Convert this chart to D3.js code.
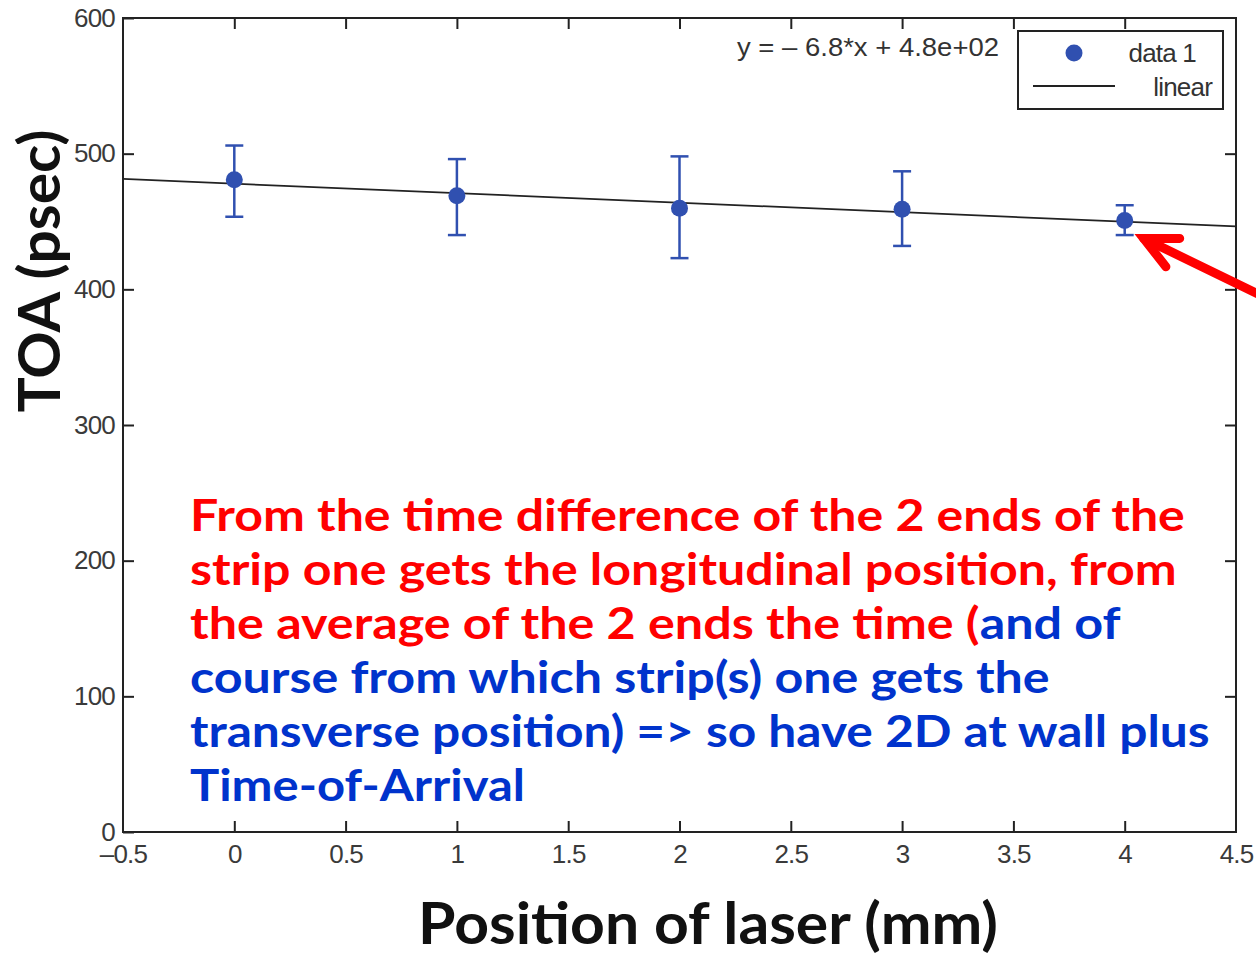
<!DOCTYPE html>
<meta charset="utf-8">
<style>
  body { margin: 0; background: #fff; }
  .tick text { font-family: "Liberation Sans", Arial, sans-serif; font-size: 26px; fill: #3a3a3a; letter-spacing: -0.8px; }
  .tick line { stroke: #222; stroke-width: 2; }
</style>
<body>
<script src="https://cdnjs.cloudflare.com/ajax/libs/d3/7.8.5/d3.min.js"></script>
<script>

var width = 1256,
    height = 955;

var margin = {top: 18, right: 20, bottom: 123, left: 123};

// laser position (mm) and time of arrival (psec)
var positions = [0, 1, 2, 3, 4];
var toa       = [480.8, 469, 459.7, 459, 450.8];
var errLow    = [453.5, 440, 423, 432, 440];
var errHigh   = [506, 496, 498, 487, 462];

var xTicks = [-0.5, 0, 0.5, 1, 1.5, 2, 2.5, 3, 3.5, 4, 4.5];
var yTicks = [0, 100, 200, 300, 400, 500, 600];

var fitLabel = "y = \u2013 6.8*x + 4.8e+02";

// annotation text, one entry per line, split by colour
var red = "#ff0000", blue = "#0033cc";
var noteLines = [
  [["From the time difference of the 2 ends of the", red]],
  [["strip one gets the longitudinal position, from", red]],
  [["the average of the 2 ends the time (", red], ["and of", blue]],
  [["course from which strip(s) one gets the", blue]],
  [["transverse position) => so have 2D at wall plus", blue]],
  [["Time-of-Arrival", blue]]
];
var noteWidths = [995, 987, 930, 860, 1020, 335];

var x = d3.scaleLinear().domain([-0.5, 4.5]).range([margin.left, width - margin.right]);
var y = d3.scaleLinear().domain([0, 600]).range([height - margin.bottom, margin.top]);

var svg = d3.select("body").append("svg")
    .attr("width", width)
    .attr("height", height);

var fmt = function(d) { return d < 0 ? "\u2013" + Math.abs(d) : String(d); };

// axes, ticks pointing inward on all four sides
svg.append("g")
    .attr("transform", "translate(0," + y(0) + ")")
    .call(d3.axisBottom(x).tickValues(xTicks).tickFormat(fmt).tickSizeInner(-11).tickSizeOuter(0).tickPadding(13))
    .call(function(g) { g.select(".domain").remove(); });

svg.append("g")
    .attr("transform", "translate(0," + y(600) + ")")
    .call(d3.axisTop(x).tickValues(xTicks.slice(1, -1)).tickFormat("").tickSizeInner(-11).tickSizeOuter(0))
    .call(function(g) { g.select(".domain").remove(); });

svg.append("g")
    .attr("transform", "translate(" + x(-0.5) + ",0)")
    .call(d3.axisLeft(y).tickValues(yTicks).tickSizeInner(-11).tickSizeOuter(0).tickPadding(8))
    .call(function(g) { g.select(".domain").remove(); });

svg.append("g")
    .attr("transform", "translate(" + x(4.5) + ",0)")
    .call(d3.axisRight(y).tickValues(yTicks.slice(1, -1)).tickFormat("").tickSizeInner(-11).tickSizeOuter(0))
    .call(function(g) { g.select(".domain").remove(); });

svg.selectAll(".tick line").filter(function(d) { return d === -0.5 || d === 4.5; }).remove();

svg.append("rect")
    .attr("x", x(-0.5)).attr("y", y(600))
    .attr("width", x(4.5) - x(-0.5)).attr("height", y(0) - y(600))
    .attr("fill", "none").attr("stroke", "#222").attr("stroke-width", 2);

// least squares fit
var mx = d3.mean(positions), my = d3.mean(toa);
var slope = d3.sum(positions, function(p, i) { return (p - mx) * (toa[i] - my); }) /
            d3.sum(positions, function(p) { return (p - mx) * (p - mx); });
var icpt = my - slope * mx;

svg.append("line")
    .attr("x1", x(-0.5)).attr("y1", y(icpt + slope * -0.5))
    .attr("x2", x(4.5)).attr("y2", y(icpt + slope * 4.5))
    .attr("stroke", "#222").attr("stroke-width", 1.8);

// error bars and points
var dotColor = "#3050b0";
var bars = svg.append("g").selectAll("g")
    .data(positions)
  .enter().append("g")
    .attr("stroke", dotColor).attr("stroke-width", 2.5);

bars.append("line")
    .attr("x1", function(d) { return x(d); }).attr("x2", function(d) { return x(d); })
    .attr("y1", function(d, i) { return y(errLow[i]); }).attr("y2", function(d, i) { return y(errHigh[i]); });
bars.append("line")
    .attr("x1", function(d) { return x(d) - 9; }).attr("x2", function(d) { return x(d) + 9; })
    .attr("y1", function(d, i) { return y(errLow[i]); }).attr("y2", function(d, i) { return y(errLow[i]); });
bars.append("line")
    .attr("x1", function(d) { return x(d) - 9; }).attr("x2", function(d) { return x(d) + 9; })
    .attr("y1", function(d, i) { return y(errHigh[i]); }).attr("y2", function(d, i) { return y(errHigh[i]); });

svg.append("g").selectAll("circle")
    .data(positions)
  .enter().append("circle")
    .attr("cx", function(d) { return x(d); })
    .attr("cy", function(d, i) { return y(toa[i]); })
    .attr("r", 8.5)
    .attr("fill", dotColor);

// fit equation
svg.append("text")
    .attr("x", 737).attr("y", 56)
    .attr("textLength", 262).attr("lengthAdjust", "spacingAndGlyphs")
    .style("font-family", "Liberation Sans, Arial, sans-serif")
    .style("font-size", "26px").style("fill", "#333")
    .text(fitLabel);

// legend
var lg = svg.append("g").attr("transform", "translate(1018,31)");
lg.append("rect").attr("width", 205).attr("height", 78)
    .attr("fill", "#fff").attr("stroke", "#222").attr("stroke-width", 2);
lg.append("circle").attr("cx", 56).attr("cy", 22).attr("r", 8.5).attr("fill", dotColor);
lg.append("line").attr("x1", 15).attr("x2", 97).attr("y1", 55).attr("y2", 55)
    .attr("stroke", "#222").attr("stroke-width", 1.8);
lg.selectAll("text")
    .data(["data 1", "linear"])
  .enter().append("text")
    .attr("x", function(d, i) { return i ? 194 : 178; })
    .attr("y", function(d, i) { return 31 + i * 34; })
    .attr("text-anchor", "end")
    .style("font-family", "Liberation Sans, Arial, sans-serif")
    .style("font-size", "26px").style("fill", "#333").style("letter-spacing", "-0.8px")
    .text(function(d) { return d; });

// axis titles
var title = function(sel, w) {
  sel.style("font-family", "Lato, 'Open Sans', sans-serif")
     .style("font-weight", "bold").style("font-size", "58px").style("fill", "#111")
     .attr("text-anchor", "middle")
     .attr("textLength", w).attr("lengthAdjust", "spacingAndGlyphs");
};
svg.append("text").attr("x", 708).attr("y", 944).call(title, 580).text("Position of laser (mm)");
svg.append("text").attr("transform", "translate(60,271) rotate(-90)").call(title, 283).text("TOA (psec)");

// annotation
noteLines.forEach(function(segs, i) {
  var t = svg.append("text")
      .style("font-family", "Lato, 'Open Sans', sans-serif")
      .style("font-weight", "bold").style("font-size", "44px");
  segs.forEach(function(s) { t.append("tspan").attr("fill", s[1]).text(s[0]); });
  var w = t.node().getComputedTextLength();
  t.attr("transform", "translate(190," + (531 + i * 54) + ") scale(" + (noteWidths[i] / w) + ",1)");
});

// red arrow pointing at the last point
var tip = [x(positions[4]) + 19, y(toa[4]) + 18];
var ang = Math.atan2(55, 113), armA = 26 * Math.PI / 180, arm = 36;
var arrow = svg.append("g").attr("stroke", "#ff0000").attr("stroke-width", 9)
    .attr("stroke-linecap", "round").attr("fill", "none");
arrow.append("line")
    .attr("x1", tip[0]).attr("y1", tip[1])
    .attr("x2", tip[0] + 140 * Math.cos(ang)).attr("y2", tip[1] + 140 * Math.sin(ang));
arrow.append("path")
    .attr("stroke-linejoin", "miter")
    .attr("d", "M" + (tip[0] + arm * Math.cos(ang - armA)) + "," + (tip[1] + arm * Math.sin(ang - armA)) +
               "L" + tip[0] + "," + tip[1] +
               "L" + (tip[0] + arm * Math.cos(ang + armA)) + "," + (tip[1] + arm * Math.sin(ang + armA)));

</script>
